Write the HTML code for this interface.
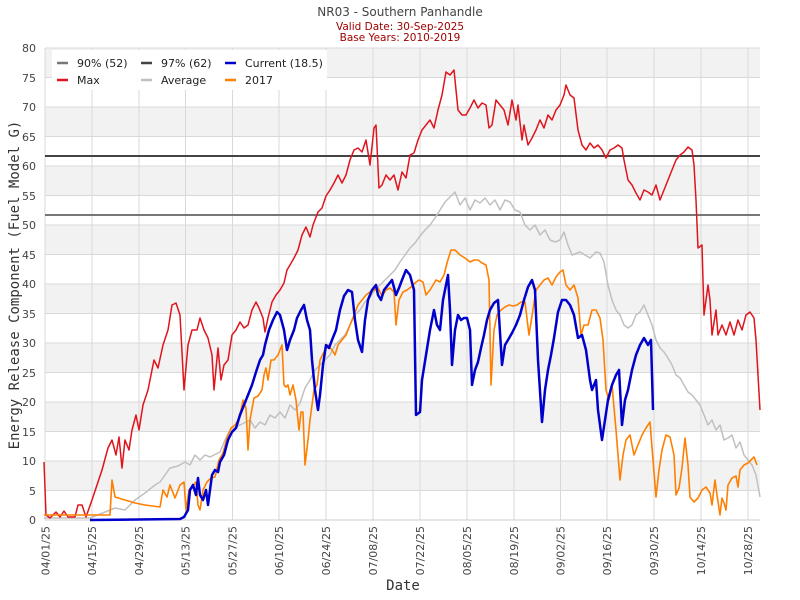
<!DOCTYPE html>
<html><head><meta charset="utf-8"><style>
body{margin:0;background:#fff}
svg{display:block;font-family:"DejaVu Sans","Liberation Sans",sans-serif}
</style></head><body>
<svg width="800" height="600" viewBox="0 0 800 600" xmlns="http://www.w3.org/2000/svg">
<rect width="800" height="600" fill="#fff"/>
<g fill="#f2f2f2">
<rect x="45" y="461" width="715" height="29.5"/>
<rect x="45" y="402" width="715" height="29.5"/>
<rect x="45" y="343" width="715" height="29.5"/>
<rect x="45" y="284" width="715" height="29.5"/>
<rect x="45" y="225" width="715" height="29.5"/>
<rect x="45" y="166" width="715" height="29.5"/>
<rect x="45" y="107" width="715" height="29.5"/>
<rect x="45" y="48" width="715" height="29.5"/>
</g>
<g stroke="#d9d9d9" stroke-width="1">
<line x1="45" x2="760" y1="490.5" y2="490.5"/><line x1="45" x2="760" y1="461" y2="461"/>
<line x1="45" x2="760" y1="431.5" y2="431.5"/><line x1="45" x2="760" y1="402" y2="402"/>
<line x1="45" x2="760" y1="372.5" y2="372.5"/><line x1="45" x2="760" y1="343" y2="343"/>
<line x1="45" x2="760" y1="313.5" y2="313.5"/><line x1="45" x2="760" y1="284" y2="284"/>
<line x1="45" x2="760" y1="254.5" y2="254.5"/><line x1="45" x2="760" y1="225" y2="225"/>
<line x1="45" x2="760" y1="195.5" y2="195.5"/><line x1="45" x2="760" y1="166" y2="166"/>
<line x1="45" x2="760" y1="136.5" y2="136.5"/><line x1="45" x2="760" y1="107" y2="107"/>
<line x1="45" x2="760" y1="77.5" y2="77.5"/><line x1="45" x2="760" y1="48" y2="48"/>
<line x1="92" x2="92" y1="48" y2="520"/><line x1="139" x2="139" y1="48" y2="520"/>
<line x1="185.5" x2="185.5" y1="48" y2="520"/><line x1="232.5" x2="232.5" y1="48" y2="520"/>
<line x1="279" x2="279" y1="48" y2="520"/><line x1="326" x2="326" y1="48" y2="520"/>
<line x1="373" x2="373" y1="48" y2="520"/><line x1="420" x2="420" y1="48" y2="520"/>
<line x1="467" x2="467" y1="48" y2="520"/><line x1="514" x2="514" y1="48" y2="520"/>
<line x1="560.5" x2="560.5" y1="48" y2="520"/><line x1="607" x2="607" y1="48" y2="520"/>
<line x1="654" x2="654" y1="48" y2="520"/><line x1="701" x2="701" y1="48" y2="520"/>
<line x1="748" x2="748" y1="48" y2="520"/>
<line x1="45" x2="45" y1="48" y2="520"/>
</g>
<line x1="45" x2="760" y1="520" y2="520" stroke="#ccc"/>
<line x1="45" x2="760" y1="215" y2="215" stroke="#777" stroke-width="2"/>
<line x1="45" x2="760" y1="156" y2="156" stroke="#444" stroke-width="2"/>
<g fill="none" stroke-linejoin="round">
<polyline stroke="#c0c0c0" stroke-width="1.5" points="44,518 90,518 105,512 115,508 125,510 135,500 145,493 155,485 160,482 170,468 178,466 185,462 190,465 195,455 200,460 205,455 210,457 220,452 225,440 230,430 240,425 250,420 255,428 260,422 265,425 270,415 275,418 280,412 285,418 290,405 295,410 300,403 305,388 310,380 315,370 320,365 325,360 330,355 335,345 340,340 345,335 350,325 355,315 360,310 365,302 370,297 375,290 380,285 385,280 390,275 395,270 400,262 405,255 410,248 415,243 420,236 425,230 430,225 435,218 440,210 445,202 450,197 455,192 460,205 465,198 470,210 475,200 480,203 485,198 490,205 495,200 500,210 505,200 510,202 515,210 520,212 525,225 530,230 535,225 540,235 545,230 550,240 555,242 560,240 564,232 568,245 572,255 580,252 590,258 596,252 600,253 604,262 608,285 612,300 616,310 620,315 624,325 628,328 632,325 636,315 640,312 644,305 648,315 652,325 656,340 660,348 664,352 668,358 672,365 676,375 680,378 684,385 688,392 692,395 696,400 700,405 704,415 708,425 712,420 716,430 720,425 724,440 728,438 732,435 736,448 740,442 744,455 748,460 752,465 756,475 760,497"/>
<polyline stroke="#e0141c" stroke-width="1.5" points="44,462 46,515 50,518 56,512 60,517 64,511 68,517 75,517 78,505 82,505 86,517 92,500 97,485 102,470 108,448 112,440 116,455 119,437 122,468 125,440 129,450 132,430 136,415 139,430 143,405 148,390 154,360 158,368 163,345 168,330 172,305 176,303 180,315 184,390 188,345 192,330 197,330 200,318 204,330 208,338 212,355 214,390 218,348 221,380 224,365 228,360 232,335 236,330 240,322 244,328 248,325 252,310 256,302 259,308 263,318 265,332 268,318 272,302 276,295 280,290 284,283 287,270 290,265 294,258 298,250 302,235 306,227 310,237 313,225 318,212 322,208 326,196 330,190 334,183 338,175 342,183 346,175 350,160 354,150 358,148 362,152 366,140 370,165 374,128 376,125 379,188 382,185 386,175 390,180 394,175 398,190 402,172 406,178 410,155 414,153 418,140 422,130 426,125 430,120 434,128 438,110 442,95 446,72 450,75 454,70 458,110 462,115 466,115 470,108 474,100 478,108 482,103 486,105 489,128 492,125 496,100 500,105 504,110 508,125 512,100 516,120 518,105 522,140 524,125 528,145 532,138 536,130 540,120 544,128 548,115 552,120 556,110 560,105 564,95 566,85 570,95 574,98 578,130 582,145 586,150 590,143 594,148 598,145 602,150 606,158 610,150 614,148 618,145 622,148 624,160 628,180 632,185 636,193 640,200 644,190 648,192 652,195 656,185 660,200 664,190 668,180 672,170 676,160 680,155 684,152 688,147 692,150 694,165 696,200 698,248 702,245 704,315 708,285 710,300 712,335 716,310 718,335 722,325 726,335 730,322 734,335 738,320 742,330 746,315 750,312 754,318 756,340 758,375 760,410"/>
<polyline stroke="#ff8000" stroke-width="1.6" points="44,515 110,515 112,480 115,497 125,500 135,503 145,505 160,507 163,490 167,497 170,485 175,498 180,485 184,482 186,510 189,490 193,486 196,482 198,505 200,510 203,490 207,482 211,478 215,477 219,460 223,453 227,438 231,428 235,425 238,420 241,410 243,400 246,408 248,450 250,420 254,398 258,396 262,390 264,375 266,368 268,380 271,360 274,360 278,355 282,345 284,385 286,387 288,385 290,395 293,385 296,400 299,430 301,412 303,412 305,465 308,440 310,420 314,390 317,385 320,360 324,352 328,345 332,350 335,355 338,345 342,340 346,335 350,325 354,315 358,305 362,300 366,295 370,292 374,290 378,288 382,296 386,290 390,288 394,292 396,325 399,300 403,292 407,290 411,287 415,283 419,280 423,282 426,295 430,290 433,285 436,280 440,282 444,275 447,263 451,250 455,250 460,255 465,258 470,262 474,260 478,260 482,263 486,265 489,280 491,385 494,330 497,315 501,310 505,307 509,305 513,306 517,305 521,302 525,302 529,335 532,316 536,290 540,285 544,280 548,278 552,285 556,277 560,272 563,270 566,285 570,290 574,285 578,298 581,335 584,325 588,325 592,310 596,310 600,318 603,340 606,390 609,400 612,385 616,430 620,480 623,455 626,440 630,435 634,455 638,445 642,435 646,428 650,422 653,460 656,497 659,470 662,450 666,435 670,437 674,455 676,495 679,488 682,468 685,438 688,465 690,497 694,502 698,498 702,490 706,487 710,493 712,505 715,480 717,495 720,515 722,498 724,503 726,510 728,485 732,478 736,476 738,487 740,470 744,465 748,463 751,460 754,457 757,465"/>
<polyline stroke="#0000cc" stroke-width="2.5" points="90,520 180,519 184,517 188,510 190,490 193,485 196,495 198,478 200,495 203,500 206,490 208,505 210,490 212,475 215,470 218,472 220,462 224,455 228,440 232,432 236,428 240,415 244,405 248,395 252,385 256,372 260,360 263,355 265,345 269,330 273,320 277,312 280,315 284,330 287,350 290,340 294,330 297,318 301,310 304,305 307,320 310,330 312,360 315,390 318,410 320,395 323,365 326,345 329,348 332,340 336,330 340,310 344,296 348,290 352,292 355,320 358,340 362,352 365,320 368,300 372,290 376,285 378,295 381,300 384,290 388,285 392,280 396,295 399,288 402,280 406,270 410,275 414,290 416,415 420,412 422,380 426,355 430,330 434,310 437,325 440,330 443,300 446,285 448,275 450,310 452,365 455,330 458,315 461,320 464,318 467,318 470,330 472,385 475,370 478,362 481,348 484,335 487,320 490,310 494,303 498,300 502,365 505,345 508,340 512,333 516,325 520,315 524,300 528,287 532,280 535,290 538,360 542,422 545,390 548,370 551,355 554,338 558,312 562,300 566,300 570,305 574,315 578,338 582,335 586,350 590,380 592,390 596,380 598,410 602,440 605,420 608,400 612,385 616,375 619,370 622,425 625,400 628,390 632,370 636,355 640,345 644,338 648,345 651,340 653,410"/>
</g>
<rect x="52" y="50" width="275" height="40" fill="#fff"/>
<g stroke-width="2.5">
<line x1="57" x2="68" y1="63" y2="63" stroke="#777"/><line x1="141" x2="152" y1="63" y2="63" stroke="#444"/><line x1="225" x2="236" y1="63" y2="63" stroke="#0000cc"/>
<line x1="57" x2="68" y1="80" y2="80" stroke="#e0141c"/><line x1="141" x2="152" y1="80" y2="80" stroke="#c0c0c0"/><line x1="225" x2="236" y1="80" y2="80" stroke="#ff8000"/>
</g>
<g font-size="11" fill="#222">
<text x="77" y="67">90% (52)</text><text x="161" y="67">97% (62)</text><text x="245" y="67">Current (18.5)</text>
<text x="77" y="84">Max</text><text x="161" y="84">Average</text><text x="245" y="84">2017</text>
</g>
<g font-size="11" fill="#444" text-anchor="end">
<text x="36" y="524">0</text><text x="36" y="495">5</text><text x="36" y="465">10</text><text x="36" y="436">15</text>
<text x="36" y="406">20</text><text x="36" y="377">25</text><text x="36" y="347">30</text><text x="36" y="318">35</text>
<text x="36" y="288">40</text><text x="36" y="259">45</text><text x="36" y="229">50</text><text x="36" y="200">55</text>
<text x="36" y="170">60</text><text x="36" y="141">65</text><text x="36" y="111">70</text><text x="36" y="82">75</text><text x="36" y="52">80</text>
</g>
<g font-size="11" fill="#444" text-anchor="end">
<text transform="translate(49.5,526) rotate(-90)">04/01/25</text>
<text transform="translate(96,526) rotate(-90)">04/15/25</text>
<text transform="translate(143,526) rotate(-90)">04/29/25</text>
<text transform="translate(189.5,526) rotate(-90)">05/13/25</text>
<text transform="translate(236.5,526) rotate(-90)">05/27/25</text>
<text transform="translate(283,526) rotate(-90)">06/10/25</text>
<text transform="translate(330,526) rotate(-90)">06/24/25</text>
<text transform="translate(377,526) rotate(-90)">07/08/25</text>
<text transform="translate(424,526) rotate(-90)">07/22/25</text>
<text transform="translate(471,526) rotate(-90)">08/05/25</text>
<text transform="translate(518,526) rotate(-90)">08/19/25</text>
<text transform="translate(564.5,526) rotate(-90)">09/02/25</text>
<text transform="translate(611,526) rotate(-90)">09/16/25</text>
<text transform="translate(658,526) rotate(-90)">09/30/25</text>
<text transform="translate(705,526) rotate(-90)">10/14/25</text>
<text transform="translate(752,526) rotate(-90)">10/28/25</text>
</g>
<text x="400" y="16" font-size="12" fill="#444" text-anchor="middle">NR03 - Southern Panhandle</text>
<text x="400" y="30" font-size="10.5" fill="#a00000" text-anchor="middle">Valid Date: 30-Sep-2025</text>
<text x="400" y="41" font-size="10.5" fill="#a00000" text-anchor="middle">Base Years: 2010-2019</text>
<text x="403" y="590" font-size="14" fill="#333" text-anchor="middle" font-family="DejaVu Sans Mono,monospace">Date</text>
<text transform="translate(19,285) rotate(-90)" font-size="14" fill="#333" text-anchor="middle" font-family="DejaVu Sans Mono,monospace">Energy Release Component (Fuel Model G)</text>
</svg>
</body></html>
